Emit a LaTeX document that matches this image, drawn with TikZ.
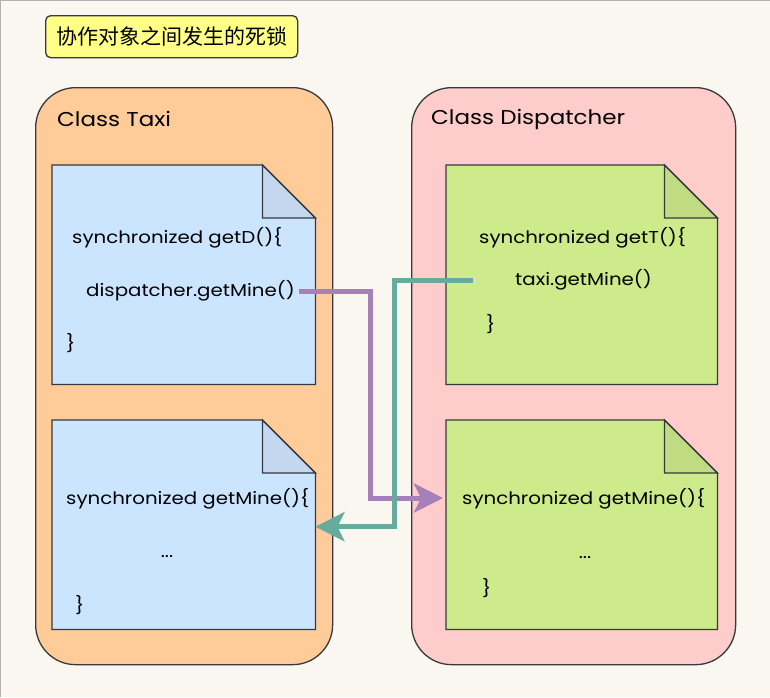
\documentclass[tikz,border=0pt]{standalone}
\usepackage{fontspec}
\setmainfont[FakeStretch=1.15]{Poppins}
\newfontfamily\cjk{Noto Sans CJK SC}
\usetikzlibrary{arrows.meta,calc}
\definecolor{bgc}{HTML}{F9F7F0}
\definecolor{strokec}{HTML}{36393D}
\definecolor{titlec}{HTML}{FFFF88}
\definecolor{taxic}{HTML}{FFCC99}
\definecolor{dispc}{HTML}{FFCCCC}
\definecolor{bluec}{HTML}{CCE5FF}
\definecolor{bluefold}{HTML}{C3D7EE}
\definecolor{greenc}{HTML}{CDEB8B}
\definecolor{greenfold}{HTML}{C0DB82}
\definecolor{purplec}{HTML}{A680B8}
\definecolor{tealc}{HTML}{67AB9F}
\newcommand\foldnote[3]{%
  \draw[notestroke, fill=#2] (#1.north west) -- ($(#1.north east)+(-53,0)$) -- ($(#1.north east)+(0,53)$) -- (#1.south east) -- (#1.south west) -- cycle;
  \draw[notestroke, fill=#3] ($(#1.north east)+(-53,0)$) -- ($(#1.north east)+(-53,53)$) -- ($(#1.north east)+(0,53)$) -- cycle;}
\begin{document}
\begin{tikzpicture}[x=1pt,y=-1pt,
  titlebox/.style={draw=strokec, line width=1.3pt, fill=titlec, rounded corners=5pt, anchor=north west, inner sep=0pt, minimum width=252pt, minimum height=42pt, font=\fontsize{21}{24}\selectfont},
  container/.style={draw=strokec, line width=1.3pt, rounded corners=40pt, anchor=north west, inner sep=0pt},
  notebody/.style={anchor=north west, inner sep=0pt, minimum width=263pt, minimum height=210pt},
  notestroke/.style={draw=strokec, line width=1.3pt, line join=miter},
  classlabel/.style={anchor=west, inner sep=0pt, font=\fontsize{20}{24}\selectfont},
  code/.style={anchor=west, inner sep=0pt, font=\fontsize{17.2}{20}\selectfont},
  link/.style={line width=5pt, -{Stealth[length=29pt, width=29pt, inset=7pt]}},
]
\useasboundingbox (0,0) rectangle (770,697);
\fill[bgc] (0,0) rectangle (770,697);
\draw[gray!60, line width=1.5pt] (0.5,697) -- (0.5,0.5) -- (770,0.5);

% title
\node[titlebox] (title) at (45,15) {\cjk 协作对象之间发生的死锁};

% containers
\node[container, fill=taxic, minimum width=297pt, minimum height=577pt] (taxi) at (35,87) {};
\node[container, fill=dispc, minimum width=324pt, minimum height=577pt] (disp) at (411,87) {};
\node[classlabel] (taxilabel) at (57,119) {Class Taxi};
\node[classlabel] (displabel) at (431,119) {Class Dispatcher};

% notes
\node[notebody, minimum width=263pt, minimum height=219pt] (tn1) at (52,165) {};
\node[notebody, minimum width=263pt, minimum height=209pt] (tn2) at (52,420) {};
\node[notebody, minimum width=271pt, minimum height=219pt] (dn1) at (446,165) {};
\node[notebody, minimum width=271pt, minimum height=209pt] (dn2) at (446,420) {};
\foldnote{tn1}{bluec}{bluefold}
\foldnote{tn2}{bluec}{bluefold}
\foldnote{dn1}{greenc}{greenfold}
\foldnote{dn2}{greenc}{greenfold}

% texts Taxi
\node[code] (t1a) at (72,238) {synchronized getD()\{};
\node[code, inner xsep=4pt] (t1b) at (82,291) {dispatcher.getMine()};
\node[code] (t1c) at (66,343) {\}};
\node[code] (t2a) at (66,499) {synchronized getMine()\{};
\node[code, anchor=base] (t2b) at (167,557) {...};
\node[code] (t2c) at (75,605) {\}};

% texts Dispatcher
\node[code] (d1a) at (479,238) {synchronized getT()\{};
\node[code] (d1b) at (515,280) {taxi.getMine()};
\node[code] (d1c) at (486,324) {\}};
\node[code] (d2a) at (462,499) {synchronized getMine()\{};
\node[code, anchor=base] (d2b) at (585,558) {...};
\node[code] (d2c) at (482,588) {\}};

% connectors
\coordinate (pv) at (370,0);
\coordinate (tv) at (394,0);
\coordinate (ts) at (473,280);
\coordinate (pend) at (443,498);
\draw[link, draw=purplec] (t1b.east) -- (t1b.east -| pv) |- (pend);
\draw[link, draw=tealc] (ts) -- (ts -| tv) |- ($(tn2.east)+(0,2)$);
\end{tikzpicture}
\end{document}
